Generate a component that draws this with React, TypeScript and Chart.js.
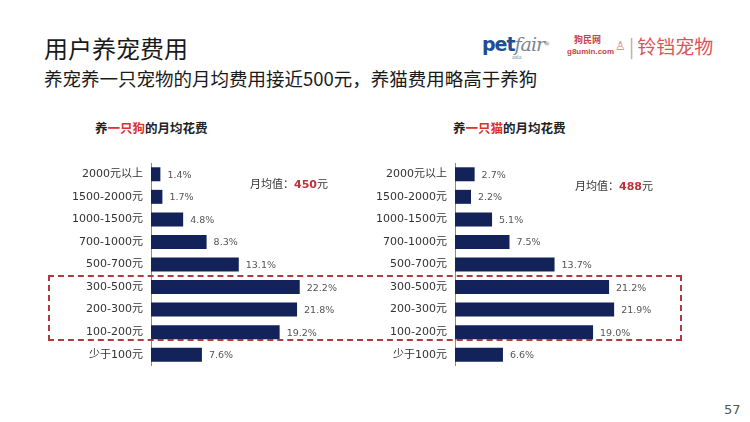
import React, { useEffect, useRef } from "react";
import { Chart, registerables } from "chart.js";

Chart.register(...registerables);

const CATEGORIES = ["2000元以上", "1500-2000元", "1000-1500元", "700-1000元", "500-700元", "300-500元", "200-300元", "100-200元", "少于100元"];
const DOG_VALUES = [1.4, 1.7, 4.8, 8.3, 13.1, 22.2, 21.8, 19.2, 7.6];
const CAT_VALUES = [2.7, 2.2, 5.1, 7.5, 13.7, 21.2, 21.9, 19.0, 6.6];
const DOG_AVG = "450";
const CAT_AVG = "488";

const FONT = '"DejaVu Sans", "Noto Sans CJK SC", sans-serif';
const CJK = '"Noto Sans CJK SC", "Microsoft YaHei", sans-serif';
const BAR_COLOR = "#13235a";

const valueLabels = {
  id: "valueLabels",
  afterDatasetsDraw(chart: any) {
    const ctx = chart.ctx;
    const meta = chart.getDatasetMeta(0);
    const data = chart.data.datasets[0].data as number[];
    ctx.save();
    ctx.font = `9.5px ${FONT}`;
    ctx.fillStyle = "#555";
    ctx.textAlign = "left";
    ctx.textBaseline = "middle";
    meta.data.forEach((el: any, i: number) => {
      ctx.fillText(data[i].toFixed(1) + "%", el.x + 7, el.y + 1);
    });
    ctx.restore();
  },
};

function BarChart({ values, max, box }: { values: number[]; max: number; box: { left: number; top: number; width: number; height: number } }) {
  const ref = useRef<HTMLCanvasElement | null>(null);
  useEffect(() => {
    if (!ref.current) return;
    const chart = new Chart(ref.current, {
      type: "bar",
      data: {
        labels: CATEGORIES,
        datasets: [
          {
            data: values,
            backgroundColor: BAR_COLOR,
            barPercentage: 0.62,
            categoryPercentage: 1,
          },
        ],
      },
      options: {
        indexAxis: "y",
        animation: false,
        responsive: true,
        maintainAspectRatio: false,
        layout: { padding: 0 },
        plugins: { legend: { display: false }, tooltip: { enabled: false } },
        scales: {
          x: { display: false, min: 0, max },
          y: {
            afterFit: (s: any) => {
              s.width = 91;
              s.paddingTop = 0;
              s.paddingBottom = 0;
            },
            grid: { display: false, drawTicks: false },
            border: { display: true, color: "#8a8a8a", width: 1 },
            ticks: { color: "#333", font: { size: 11, family: FONT }, padding: 8 },
          },
        },
      },
      plugins: [valueLabels],
    });
    return () => chart.destroy();
  }, [values, max]);
  return (
    <div style={{ position: "absolute", left: box.left, top: box.top, width: box.width, height: box.height }}>
      <canvas ref={ref} />
    </div>
  );
}

const abs = (s: React.CSSProperties): React.CSSProperties => ({ position: "absolute", whiteSpace: "nowrap", ...s });

export default function App() {
  return (
    <div
      style={{
        position: "absolute",
        left: 0,
        top: 0,
        width: 750,
        height: 422,
        background: "#fff",
        overflow: "hidden",
        fontFamily: CJK,
      }}
    >
      <div style={abs({ left: 44, top: 32, fontSize: 24, color: "#1a1a1a", lineHeight: "32px" })}>用户养宠费用</div>
      <div style={abs({ left: 44, top: 66, fontSize: 18.5, color: "#1a1a1a", lineHeight: "24px" })}>
        养宠养一只宠物的月均费用接近500元，养猫费用略高于养狗
      </div>

      {/* logos */}
      <div style={abs({ left: 482, top: 32, fontSize: 19, lineHeight: "24px", fontFamily: '"DejaVu Sans", sans-serif' })}>
        <span style={{ color: "#1f4f93", fontWeight: "bold", letterSpacing: -1 }}>pet</span>
        <span style={{ color: "#7a8793", fontStyle: "italic", fontFamily: '"DejaVu Serif", serif', letterSpacing: -1 }}>fair</span>
        <span style={{ color: "#7a8793", fontSize: 6, verticalAlign: "top" }}>®</span>
      </div>
      <div style={abs({ left: 512, top: 54, fontSize: 6, color: "#7a8793", fontFamily: "serif" })}>asia</div>
      <div style={abs({ left: 574, top: 34, fontSize: 9, color: "#c9444a", fontWeight: "bold", lineHeight: "11px" })}>狗民网</div>
      <div style={abs({ left: 567, top: 47, fontSize: 8, color: "#c9444a", fontWeight: "bold", lineHeight: "10px", fontFamily: '"Liberation Sans", sans-serif' })}>g8umin.com</div>
      <div style={abs({ left: 615, top: 36, fontSize: 12, color: "#d98080" })}>♙</div>
      <div style={abs({ left: 629, top: 33, fontSize: 19, color: "#d9555a", lineHeight: "26px" })}>
        <span style={{ color: "#c9a0a0", marginRight: 3 }}>|</span>铃铛宠物
      </div>

      {/* chart titles */}
      <div style={abs({ left: 95, top: 119, fontSize: 12.5, fontWeight: "bold", color: "#222", lineHeight: "18px" })}>
        养<span style={{ color: "#e03030" }}>一只狗</span>的月均花费
      </div>
      <div style={abs({ left: 453, top: 119, fontSize: 12.5, fontWeight: "bold", color: "#222", lineHeight: "18px" })}>
        养<span style={{ color: "#e03030" }}>一只猫</span>的月均花费
      </div>

      <BarChart values={DOG_VALUES} max={30} box={{ left: 60, top: 163, width: 292, height: 203 }} />
      <BarChart values={CAT_VALUES} max={30} box={{ left: 364, top: 163, width: 309, height: 203 }} />

      <div style={abs({ left: 250, top: 175, fontSize: 11, color: "#333", lineHeight: "16px" })}>
        月均值：<span style={{ color: "#c0303a", fontWeight: "bold", fontFamily: FONT }}>{DOG_AVG}</span>元
      </div>
      <div style={abs({ left: 575, top: 177, fontSize: 11, color: "#333", lineHeight: "16px" })}>
        月均值：<span style={{ color: "#c0303a", fontWeight: "bold", fontFamily: FONT }}>{CAT_AVG}</span>元
      </div>

      {/* dashed highlight box */}
      <div
        style={{
          position: "absolute",
          left: 48,
          top: 275,
          width: 634,
          height: 66,
          border: "2px dashed #b03a3e",
          boxSizing: "border-box",
        }}
      />

      <div style={abs({ left: 724, top: 402, fontSize: 13, color: "#555", fontFamily: FONT })}>57</div>
    </div>
  );
}
